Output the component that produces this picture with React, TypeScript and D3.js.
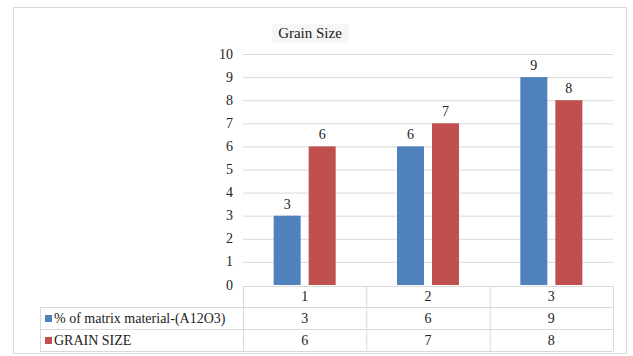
import React from "react";
import * as d3 from "d3";

const categories = ["1", "2", "3"];
const seriesNames = ["% of matrix material-(A12O3)", "GRAIN SIZE"];
const matrixValues = [3, 6, 9];
const grainValues = [6, 7, 8];
const yTicks = [0, 1, 2, 3, 4, 5, 6, 7, 8, 9, 10];
const colors = ["#4f81bd", "#c0504d"];
const FONT = "Liberation Serif";

function T(props: any) {
  const { children, ...rest } = props;
  return (
    <text fontFamily={FONT} fill="#222" fontSize={14} style={{ fontFamily: FONT }} {...rest}>
      {children}
    </text>
  );
}

export default function App() {
  const W = 633, H = 356;
  const plotL = 243, plotR = 613, plotT = 54, plotB = 285;
  const tableL = 40;
  const rowYs = [286, 307, 329, 351];

  const x = d3.scaleBand<string>().domain(categories).range([plotL, plotR]);
  const y = d3.scaleLinear().domain([0, 10]).range([plotB, plotT]);
  const series = [matrixValues, grainValues];
  const barW = 27, gap = 8;

  return (
    <svg width={W} height={H} fontFamily={FONT} style={{ position: "absolute", left: 0, top: 0, background: "#fff", fontFamily: FONT }}>
      <rect x={13.5} y={7.5} width={613} height={346} fill="#fff" stroke="#d9d9d9" />
      <rect x={272} y={24} width={77} height={19} fill="#f6f6f6" />
      <T x={310} y={38} textAnchor="middle" fontSize={15} fill="#1a1a1a">Grain Size</T>
      {yTicks.map((t) => (
        <g key={t}>
          {t > 0 && <line x1={plotL} x2={plotR} y1={y(t) + 0.5} y2={y(t) + 0.5} stroke="#d9d9d9" />}
          <T x={233} y={y(t) + 4.5} textAnchor="end">{t}</T>
        </g>
      ))}
      {categories.map((c, i) => {
        const cx = x(c)! + x.bandwidth() / 2;
        return series.map((vals, s) => {
          const bx = s === 0 ? cx - gap / 2 - barW : cx + gap / 2;
          return (
            <g key={c + s}>
              <rect x={bx} y={y(vals[i])} width={barW} height={plotB - y(vals[i])} fill={colors[s]} />
              <T x={bx + barW / 2} y={y(vals[i]) - 7} textAnchor="middle">{vals[i]}</T>
            </g>
          );
        });
      })}
      <g stroke="#d9d9d9" fill="none">
        <line x1={plotL} x2={plotR} y1={rowYs[0] + 0.5} y2={rowYs[0] + 0.5} />
        {rowYs.slice(1).map((ry) => (
          <line key={ry} x1={tableL} x2={plotR} y1={ry + 0.5} y2={ry + 0.5} />
        ))}
        <line x1={tableL + 0.5} x2={tableL + 0.5} y1={rowYs[1]} y2={rowYs[3]} />
        {categories.map((c) => (
          <line key={c} x1={x(c)! + 0.5} x2={x(c)! + 0.5} y1={rowYs[0]} y2={rowYs[3]} />
        ))}
        <line x1={plotR + 0.5} x2={plotR + 0.5} y1={rowYs[0]} y2={rowYs[3]} />
      </g>
      {categories.map((c) => (
        <T key={c} x={x(c)! + x.bandwidth() / 2} y={rowYs[0] + 15} textAnchor="middle">{c}</T>
      ))}
      {seriesNames.map((name, s) => (
        <g key={name}>
          <rect x={45} y={rowYs[s + 1] + 8} width={7} height={7} fill={colors[s]} />
          <T x={54} y={rowYs[s + 1] + 16}>{name}</T>
          {categories.map((c, i) => (
            <T key={c} x={x(c)! + x.bandwidth() / 2} y={rowYs[s + 1] + 16} textAnchor="middle">{series[s][i]}</T>
          ))}
        </g>
      ))}
    </svg>
  );
}
